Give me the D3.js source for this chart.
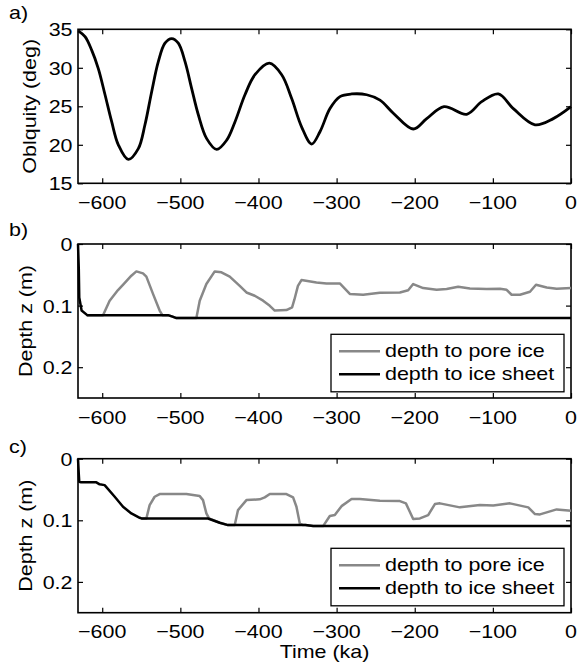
<!DOCTYPE html>
<html><head><meta charset="utf-8">
<script src="https://cdn.jsdelivr.net/npm/d3@7"></script>
<style>
body{margin:0;background:#fff}
svg{display:block}
text{font-family:"Liberation Sans",Arial,Helvetica,sans-serif;font-size:18.5px;fill:#000}
</style>
</head><body>
<svg id="chart" width="581" height="664"></svg>
<script>
// ---------- data ----------
const xTicks = [-600, -500, -400, -300, -200, -100, 0];
const xTickLabels = ["\u2212600", "\u2212500", "\u2212400", "\u2212300", "\u2212200", "\u2212100", "0"];
const obliquityTicks = [15, 20, 25, 30, 35];
const obliquityTickLabels = ["15", "20", "25", "30", "35"];
const depthTicks = [0, 0.1, 0.2];
const depthTickLabels = ["0", "0.1", "0.2"];
const legendLabels = ["depth to pore ice", "depth to ice sheet"];

// panel a: obliquity (time ka, degrees)
const obliquity = [
  [-630.6, 34.8], [-622, 34.04], [-613.5, 32.3], [-605, 29.9], [-596.4, 26.5],
  [-587.9, 23.0], [-579.4, 20.0], [-566.6, 18.1], [-553.8, 19.5], [-545.3, 22.6],
  [-536.7, 26.9], [-528.2, 30.8], [-519.7, 33.2], [-511.1, 33.8], [-502.6, 33.2],
  [-494, 30.8], [-485.5, 27.3], [-477, 23.9], [-466.3, 20.8], [-453.5, 19.4],
  [-440.7, 20.6], [-430, 23.0], [-417.3, 26.5], [-404.5, 29.1], [-386.1, 30.6],
  [-370.3, 29.1], [-357.5, 26.0], [-344.7, 22.3], [-331.9, 20.1], [-321.3, 21.7],
  [-308.5, 24.7], [-295.7, 26.25], [-280.7, 26.6], [-261.5, 26.5], [-244.5, 25.8],
  [-227.4, 24.1], [-201.8, 22.05], [-184.7, 23.4], [-162.5, 24.95], [-133.5, 23.96],
  [-114.3, 25.6], [-93, 26.6], [-73.8, 24.7], [-46.1, 22.6], [-22.7, 23.4],
  [0, 24.95]
];

// panel b: depths (m)
const bPoreIce = [
  [-620, 0.1155], [-599, 0.1155], [-590.5, 0.092], [-579.8, 0.0748], [-572.6, 0.065],
  [-562.7, 0.0515], [-556.3, 0.0445], [-547.8, 0.0477], [-543.5, 0.053], [-535, 0.081],
  [-526.5, 0.108], [-523, 0.1155], [-515.8, 0.1155], [-510, 0.118], [-505, 0.1203],
  [-479.5, 0.1203], [-475.2, 0.092], [-466.7, 0.065], [-456, 0.0445], [-447.4, 0.046],
  [-436.8, 0.053], [-424, 0.068], [-415.4, 0.0787], [-404.8, 0.084], [-394.1, 0.092],
  [-385.5, 0.1003], [-379.2, 0.108], [-364.2, 0.1073], [-357, 0.103], [-354, 0.09],
  [-349.5, 0.068], [-345, 0.0585], [-325.8, 0.0624], [-313, 0.064], [-295.9, 0.064],
  [-283.1, 0.081], [-266, 0.0825], [-244.6, 0.079], [-219, 0.0787], [-208.4, 0.075],
  [-202, 0.065], [-189.2, 0.0716], [-172, 0.0743], [-159.2, 0.0732], [-144.4, 0.0694],
  [-129.4, 0.0722], [-108, 0.0732], [-90.9, 0.0727], [-82.4, 0.0743], [-76, 0.0824],
  [-65.3, 0.0824], [-52.5, 0.0776], [-44.8, 0.0662], [-31.1, 0.0705], [-18.3, 0.0727],
  [0, 0.0716]
];
const bIceSheet = [
  [-631, 0], [-630, 0.04], [-629.4, 0.087], [-626.4, 0.108], [-619.2, 0.1155],
  [-515.8, 0.1155], [-510, 0.118], [-505, 0.1203], [0, 0.1203]
];

// panel c: depths (m)
const cPoreIce = [
  [-549.9, 0.097], [-543.5, 0.097], [-539.3, 0.0753], [-532.9, 0.0618], [-526.5, 0.0574],
  [-492.3, 0.0574], [-475.2, 0.0607], [-471, 0.0672], [-466.7, 0.0888], [-463.3, 0.097],
  [-449.6, 0.104], [-439, 0.1078], [-430.4, 0.1078], [-426.2, 0.0834], [-415.4, 0.0672],
  [-398.4, 0.066], [-392, 0.0628], [-385.5, 0.0574], [-364.2, 0.0574], [-355.7, 0.0628],
  [-351.4, 0.078], [-347.1, 0.105], [-343, 0.1078], [-340, 0.1078], [-330, 0.1094],
  [-317.3, 0.1094], [-308.7, 0.0931], [-302.3, 0.0914], [-293.7, 0.077], [-280.9, 0.0655],
  [-270.3, 0.0655], [-244.6, 0.0683], [-219, 0.0688], [-211.3, 0.0725], [-202, 0.098],
  [-193.4, 0.097], [-182.8, 0.0915], [-174.2, 0.0737], [-167.8, 0.0725], [-142.2, 0.079],
  [-116.6, 0.0753], [-99.5, 0.0758], [-78.1, 0.0725], [-54.7, 0.079], [-46.1, 0.0899],
  [-39.7, 0.0904], [-18.3, 0.0823], [0, 0.0846]
];
const cIceSheet = [
  [-631, 0], [-630, 0.025], [-629.4, 0.0374], [-627, 0.0384], [-607.5, 0.0384],
  [-603.3, 0.0416], [-596.9, 0.0429], [-584, 0.0618], [-573.4, 0.078], [-562.7, 0.0888],
  [-552, 0.0959], [-549.9, 0.097], [-464.6, 0.097], [-449.6, 0.104], [-439, 0.1078],
  [-340, 0.1078], [-330, 0.1094], [0, 0.1094]
];

// ---------- drawing ----------
const svg = d3.select("#chart");
const SX = 1.16;
const GRAY = "#888888";
const xLeft = 78, xRight = 571;
const x = d3.scaleLinear().domain([-631, 0]).range([xLeft, xRight]);

function label(g, px, py, s, anchor, rot) {
  g.append("text")
    .attr("transform", `translate(${px},${py}) rotate(${rot || 0}) scale(${SX},1)`)
    .attr("text-anchor", anchor || "start")
    .text(s);
}

function frameAxes(y, top, bottom, yTicks, yLabels) {
  const g = svg.append("g");
  const tickStyle = sel => {
    sel.select(".domain").remove();
    sel.selectAll(".tick line").attr("stroke", "#000").attr("stroke-width", 1.2);
  };
  g.append("g").attr("transform", `translate(0,${bottom})`)
    .call(d3.axisBottom(x).tickValues(xTicks).tickSize(-5).tickFormat("")).call(tickStyle);
  g.append("g").attr("transform", `translate(0,${top})`)
    .call(d3.axisTop(x).tickValues(xTicks).tickSize(-5).tickFormat("")).call(tickStyle);
  g.append("g").attr("transform", `translate(${xLeft},0)`)
    .call(d3.axisLeft(y).tickValues(yTicks).tickSize(-5).tickFormat("")).call(tickStyle);
  g.append("g").attr("transform", `translate(${xRight},0)`)
    .call(d3.axisRight(y).tickValues(yTicks).tickSize(-5).tickFormat("")).call(tickStyle);
  g.append("rect").attr("x", xLeft).attr("y", top)
    .attr("width", xRight - xLeft).attr("height", bottom - top)
    .attr("fill", "none").attr("stroke", "#000").attr("stroke-width", 1.6);
  xTicks.forEach((t, i) => label(g, x(t), bottom + 25.5, xTickLabels[i], "middle"));
  yTicks.forEach((t, i) => label(g, 72.5, y(t) + 7, yLabels[i], "end"));
  return g;
}

function drawLine(data, y, color, width, curve) {
  svg.append("path").datum(data)
    .attr("fill", "none").attr("stroke", color).attr("stroke-width", width)
    .attr("stroke-linejoin", "round").attr("stroke-linecap", "butt")
    .attr("d", d3.line().x(d => x(d[0])).y(d => y(d[1])).curve(curve || d3.curveLinear));
}

function legend(top) {
  const g = svg.append("g");
  g.append("rect").attr("x", 331).attr("y", top).attr("width", 233).attr("height", 57.5)
    .attr("fill", "#fff").attr("stroke", "#000").attr("stroke-width", 1.3);
  const colors = [GRAY, "#000"];
  [17, 40].forEach((dy, i) => {
    g.append("line").attr("x1", 339).attr("x2", 380).attr("y1", top + dy).attr("y2", top + dy)
      .attr("stroke", colors[i]).attr("stroke-width", 2.5);
    label(g, 385, top + dy + 6, legendLabels[i], "start");
  });
}

// Panel a
{
  const top = 29.3, bottom = 183.3;
  const y = d3.scaleLinear().domain([15, 35]).range([bottom, top]);
  frameAxes(y, top, bottom, obliquityTicks, obliquityTickLabels);
  drawLine(obliquity, y, "#000", 2.8, d3.curveCatmullRom.alpha(0.5));
  label(svg, 9, 19, "a)", "start");
  label(svg, 35.5, (top + bottom) / 2, "Oblquity (deg)", "middle", -90);
}

// Panel b
{
  const top = 244, bottom = 398;
  const y = d3.scaleLinear().domain([0, 0.25]).range([top, bottom]);
  frameAxes(y, top, bottom, depthTicks, depthTickLabels);
  drawLine(bPoreIce, y, GRAY, 2.5);
  drawLine(bIceSheet, y, "#000", 2.5);
  legend(334.3);
  label(svg, 9, 236, "b)", "start");
  label(svg, 31.5, (top + bottom) / 2, "Depth z (m)", "middle", -90);
}

// Panel c
{
  const top = 458.7, bottom = 612.7;
  const y = d3.scaleLinear().domain([0, 0.25]).range([top, bottom]);
  frameAxes(y, top, bottom, depthTicks, depthTickLabels);
  drawLine(cPoreIce, y, GRAY, 2.5);
  drawLine(cIceSheet, y, "#000", 2.5);
  legend(548.3);
  label(svg, 9, 452.5, "c)", "start");
  label(svg, 31.5, (top + bottom) / 2, "Depth z (m)", "middle", -90);
  label(svg, (xLeft + xRight) / 2, 658, "Time (ka)", "middle");
}
</script>
</body></html>
